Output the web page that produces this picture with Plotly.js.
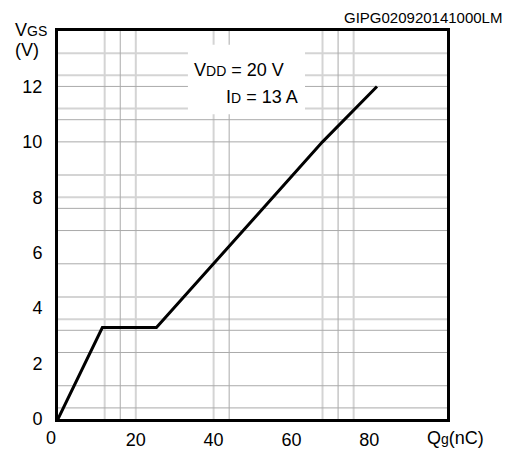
<!DOCTYPE html>
<html>
<head>
<meta charset="utf-8">
<script src="https://cdn.plot.ly/plotly-3.0.1.min.js"></script>
<style>html,body{margin:0;padding:0;background:#fff}#chart{width:512px;height:450px}</style>
</head>
<body>
<div id="chart"></div>
<script>
// Gate charge curve: Qg (nC) vs VGS (V)
const qg = [0, 11.4, 25.3, 68, 82];
const vgs = [0, 3.3, 3.3, 10, 12];

const xTickVals = [20, 40, 60, 80];
const xTickText = ['20', '40', '60', '80'];
const xOriginLabel = '0';
const yTickVals = [0, 2, 4, 6, 8, 10, 12];
const yTickText = ['0', '2', '4', '6', '8', '10', '12'];

// grid lines of the datasheet chart (data units)
const vGridLight = [12, 20, 40, 68, 76];
const vGridDark = [16, 44, 72];
const hGridLight = [3.6, 4.4, 8.0, 8.8, 11.2, 12.4, 13.2];
const hGridDark = [0.4, 1.2, 2.4, 3.2, 5.6, 6.8, 7.6, 10.0, 10.8, 12.0];

const xRange = [0, 100];
const yRange = [0, 14];

const conditionLines = ['V<span style="font-size:14px">DD</span> = 20 V', 'I<span style="font-size:14px">D</span> = 13 A'];
const yLabelTop = 'V<span style="font-size:14px">GS</span>';
const yLabelUnit = '(V)';
const xLabel = 'Q<span style="font-size:14px">g</span>(nC)';
const figId = 'GIPG020920141000LM';

const FONT = 'Liberation Sans, Arial, Helvetica, sans-serif';

const shapes = [];
vGridLight.forEach(v => shapes.push({type:'line', layer:'below', xref:'x', yref:'y', x0:v, x1:v, y0:yRange[0], y1:yRange[1], line:{color:'#d4d4d4', width:2}}));
hGridLight.forEach(v => shapes.push({type:'line', layer:'below', xref:'x', yref:'y', y0:v, y1:v, x0:xRange[0], x1:xRange[1], line:{color:'#d4d4d4', width:2}}));
vGridDark.forEach(v => shapes.push({type:'line', layer:'below', xref:'x', yref:'y', x0:v, x1:v, y0:yRange[0], y1:yRange[1], line:{color:'#aaaaaa', width:1}}));
hGridDark.forEach(v => shapes.push({type:'line', layer:'below', xref:'x', yref:'y', y0:v, y1:v, x0:xRange[0], x1:xRange[1], line:{color:'#aaaaaa', width:1}}));
// white box behind the test conditions
shapes.push({type:'rect', layer:'below', xref:'x', yref:'y', x0:33.4, x1:63.5, y0:11.0, y1:13.5, fillcolor:'#ffffff', line:{width:0}});

const trace = {
  x: qg, y: vgs, type:'scatter', mode:'lines',
  line:{color:'#000000', width:3}, hoverinfo:'skip', showlegend:false
};

const layout = {
  width:512, height:450,
  margin:{l:58, r:65, t:31, b:31, pad:0},
  paper_bgcolor:'#ffffff', plot_bgcolor:'#ffffff',
  font:{family:FONT, size:18, color:'#000000'},
  showlegend:false,
  xaxis:{
    range:xRange, tickvals:xTickVals, ticktext:xTickText,
    showgrid:false, zeroline:false,
    showline:true, mirror:true, linecolor:'#000000', linewidth:3,
    ticks:'outside', ticklen:2, tickcolor:'rgba(0,0,0,0)',
    tickfont:{family:FONT, size:18, color:'#000'}
  },
  yaxis:{
    range:yRange, tickvals:yTickVals, ticktext:yTickText,
    showgrid:false, zeroline:false,
    showline:true, mirror:true, linecolor:'#000000', linewidth:3,
    ticks:'outside', ticklen:9, tickcolor:'rgba(0,0,0,0)',
    tickfont:{family:FONT, size:18, color:'#000'}
  },
  shapes: shapes,
  annotations:[
    {xref:'x', yref:'y', x:34.4, y:12.6, xanchor:'left', yanchor:'middle', text:conditionLines[0], showarrow:false, font:{family:FONT, size:18}},
    {xref:'x', yref:'y', x:62.2, y:11.63, xanchor:'right', yanchor:'middle', text:conditionLines[1], showarrow:false, font:{family:FONT, size:18}},
    {xref:'paper', yref:'paper', x:-0.1165, y:1.0026, xanchor:'left', yanchor:'middle', text:yLabelTop, showarrow:false, font:{family:FONT, size:18}},
    {xref:'paper', yref:'paper', x:-0.1157, y:0.951, xanchor:'left', yanchor:'middle', text:yLabelUnit, showarrow:false, font:{family:FONT, size:18}},
    {xref:'paper', yref:'paper', x:1.146, y:1.036, xanchor:'right', yanchor:'middle', text:figId, showarrow:false, font:{family:FONT, size:15}},
    {xref:'paper', yref:'paper', x:0.9434, y:-0.049, xanchor:'left', yanchor:'middle', text:xLabel, showarrow:false, font:{family:FONT, size:18}},
    {xref:'x', yref:'paper', x:0, xshift:-7.5, y:-0.049, xanchor:'center', yanchor:'middle', text:xOriginLabel, showarrow:false, font:{family:FONT, size:18}}
  ]
};

Plotly.newPlot('chart', [trace], layout, {displayModeBar:false, staticPlot:true});
</script>
</body>
</html>
